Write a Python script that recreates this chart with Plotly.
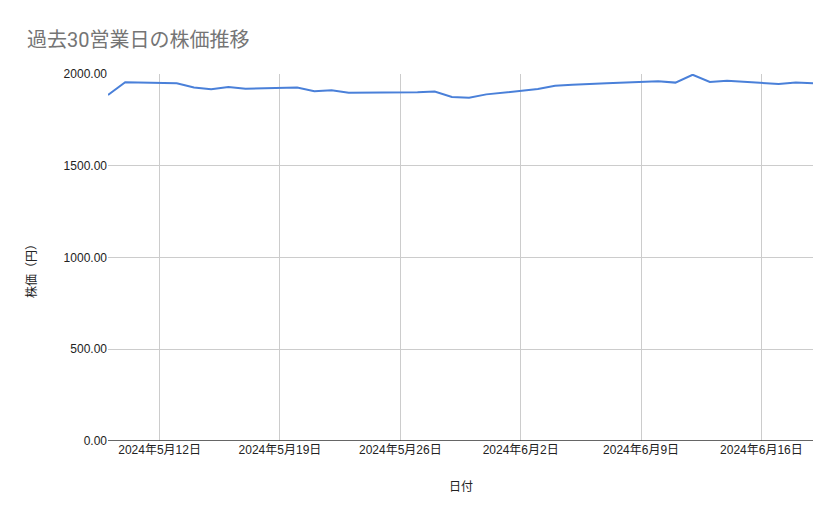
import plotly.graph_objects as go

# ---------- Data ----------
dates = [
    "2024-05-09", "2024-05-10", "2024-05-13", "2024-05-14", "2024-05-15",
    "2024-05-16", "2024-05-17", "2024-05-20", "2024-05-21", "2024-05-22",
    "2024-05-23", "2024-05-24", "2024-05-27", "2024-05-28", "2024-05-29",
    "2024-05-30", "2024-05-31", "2024-06-03", "2024-06-04", "2024-06-05",
    "2024-06-06", "2024-06-07", "2024-06-10", "2024-06-11", "2024-06-12",
    "2024-06-13", "2024-06-14", "2024-06-17", "2024-06-18", "2024-06-19",
]
prices = [
    1886, 1955, 1950, 1927, 1917,
    1929, 1920, 1926, 1906, 1912,
    1898, 1898, 1900, 1905, 1875,
    1871, 1889, 1918, 1936, 1941,
    1946, 1950, 1960, 1953, 1996,
    1957, 1963, 1946, 1953, 1950,
]
tick_dates = ["2024-05-12", "2024-05-19", "2024-05-26",
              "2024-06-02", "2024-06-09", "2024-06-16"]
tick_text = ["2024年5月12日", "2024年5月19日", "2024年5月26日",
             "2024年6月2日", "2024年6月9日", "2024年6月16日"]
y_ticks = [0, 500, 1000, 1500, 2000]

FONT = "Arial, 'Liberation Sans', 'Noto Sans CJK JP', sans-serif"

# page body has an 8px margin, so the figure is a bit smaller
W, H = 831, 511

# ---------- Figure ----------
fig = go.Figure()
fig.add_trace(go.Scatter(
    x=dates, y=prices, mode="lines",
    line=dict(color="#4a80d9", width=2),
    hoverinfo="x+y",
))

fig.update_layout(
    width=W, height=H,
    margin=dict(l=100, r=26, t=66, b=78),
    paper_bgcolor="white", plot_bgcolor="white",
    font=dict(family=FONT, size=12, color="#222222"),
    showlegend=False,
    title=dict(
        text="過去30営業日の株価推移",
        x=19 / W, xref="container", xanchor="left",
        y=1 - 32 / H, yref="container", yanchor="middle",
        font=dict(family="Roboto, 'Noto Sans CJK JP', sans-serif",
                  size=20, color="#757575"),
    ),
    xaxis=dict(
        type="date",
        range=["2024-05-09", "2024-06-19"],
        tickvals=tick_dates, ticktext=tick_text,
        showgrid=True, gridcolor="#cccccc", gridwidth=1,
        showline=False, zeroline=False, ticks="",
        tickfont=dict(size=12, color="#222222"),
    ),
    yaxis=dict(
        range=[0, 2000],
        tickvals=y_ticks, tickformat=".2f",
        showgrid=True, gridcolor="#cccccc", gridwidth=1,
        zeroline=False, showline=False, ticks="",
        tickfont=dict(size=12, color="#222222"),
    ),
    annotations=[
        dict(text="日付", x=0.5, y=-46 / 367, xref="paper", yref="paper",
             showarrow=False, xanchor="center", yanchor="middle",
             font=dict(size=12, color="#222222")),
        dict(text="株価（円）", x=-77 / 705, y=(441 - 268) / 367,
             xref="paper", yref="paper",
             showarrow=False, textangle=-90, xanchor="center", yanchor="middle",
             font=dict(size=12, color="#222222")),
    ],
    shapes=[
        dict(type="line", xref="paper", yref="y", x0=0, x1=1, y0=0, y1=0,
             line=dict(color="#333333", width=1.5)),
    ],
)

fig.write_html("out.html")
